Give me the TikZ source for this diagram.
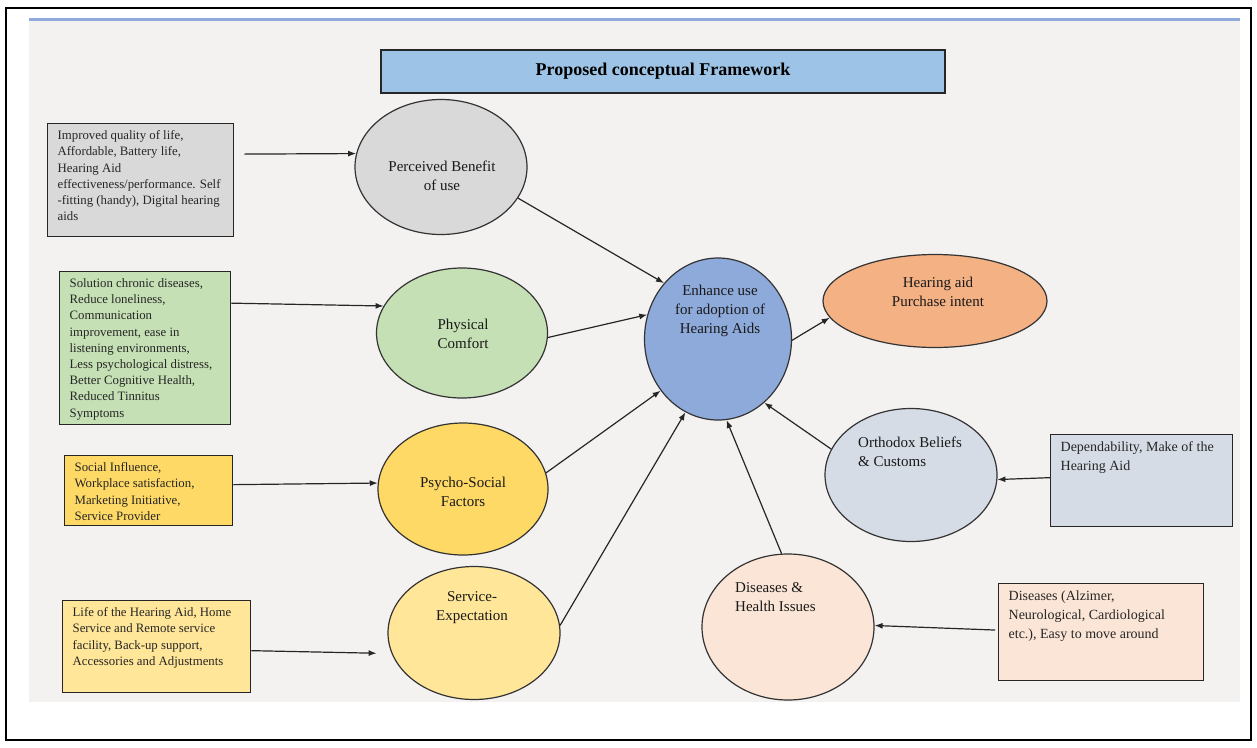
\documentclass[tikz,border=0pt]{standalone}
\usepackage{fontspec}
\setmainfont{Liberation Serif}
\usepackage{xcolor}
\usepackage{tikz}
\usetikzlibrary{shapes.geometric, arrows.meta}
\definecolor{panel}{RGB}{244, 241, 241}
\definecolor{titleblue}{RGB}{157, 195, 230}
\definecolor{hagray}{RGB}{217, 217, 217}
\definecolor{hagreen}{RGB}{197, 224, 180}
\definecolor{hagold}{RGB}{255, 217, 102}
\definecolor{hacream}{RGB}{255, 230, 153}
\definecolor{haslate}{RGB}{214, 220, 229}
\definecolor{hapeach}{RGB}{251, 229, 214}
\definecolor{hablue}{RGB}{142, 170, 219}
\definecolor{haorange}{RGB}{244, 177, 131}
\newcommand{\boxtext}[3]{\parbox[t][#2][t]{#1}{\raggedright #3}}

\begin{document}
\begin{tikzpicture}[
    x=1pt, y=-1pt,
    titlebox/.style={rectangle, draw=black!85, line width=1.5pt, fill=titleblue,
                     minimum width=564pt, minimum height=43pt,
                     font=\fontsize{18}{22}\selectfont\bfseries},
    srcbox/.style={rectangle, draw=black!85, line width=1.3pt, anchor=north west,
                   inner xsep=10pt, inner ysep=7pt, text=black!85},
    leftfont/.style={font=\fontsize{12.8}{16.2}\selectfont},
    rightfont/.style={font=\fontsize{14}{19}\selectfont},
    factor/.style={ellipse, draw=black!80, line width=1.2pt, inner sep=0pt},
    factortext/.style={align=center, inner sep=0pt, text=black!90,
                       font=\fontsize{15}{19}\selectfont},
    arrow/.style={-{Latex[length=8pt, width=6pt]}, line width=1.2pt, draw=black!85},
]
\useasboundingbox (0,0) rectangle (1257,747);
\draw[line width=2pt] (6,8) rectangle (1251,740);
\fill[panel] (29,18) rectangle (1240,702);
\draw[hablue, line width=3pt] (29,19) -- (1240,19);

\node[titlebox] (title) at (663,71.5) {Proposed conceptual Framework};

\node[srcbox, leftfont, fill=hagray] (benefitsrc) at (47,123)
    {\boxtext{166pt}{99pt}{Improved quality of life,\\ Affordable, Battery life,\\ Hearing Aid\\ effectiveness/performance. Self\\ -fitting (handy), Digital hearing\\ aids}};
\node[srcbox, leftfont, fill=hagreen] (comfortsrc) at (59,271)
    {\boxtext{151pt}{139pt}{Solution chronic diseases,\\ Reduce loneliness,\\ Communication\\ improvement, ease in\\ listening environments,\\ Less psychological distress,\\ Better Cognitive Health,\\ Reduced Tinnitus\\ Symptoms}};
\node[srcbox, leftfont, fill=hagold] (psychosrc) at (64,455)
    {\boxtext{148pt}{56pt}{Social Influence,\\ Workplace satisfaction,\\ Marketing Initiative,\\ Service Provider}};
\node[srcbox, leftfont, fill=hacream] (servicesrc) at (62,600)
    {\boxtext{168pt}{78pt}{Life of the Hearing Aid, Home\\ Service and Remote service\\ facility, Back-up support,\\ Accessories and Adjustments}};
\node[srcbox, rightfont, fill=haslate] (depsrc) at (1050,434)
    {\boxtext{162pt}{78pt}{Dependability, Make of the\\ Hearing Aid}};
\node[srcbox, rightfont, fill=hapeach] (diseasessrc) at (998,583)
    {\boxtext{185pt}{83pt}{Diseases (Alzimer,\\ Neurological, Cardiological\\ etc.), Easy to move around}};

\node[factor, fill=hagray,   minimum width=172pt, minimum height=135pt] (benefit)  at (441,167) {};
\node[factor, fill=hagreen,  minimum width=171pt, minimum height=130pt] (comfort)  at (462,333) {};
\node[factor, fill=hagold,   minimum width=170pt, minimum height=132pt] (psycho)   at (463,489) {};
\node[factor, fill=hacream,  minimum width=172pt, minimum height=133pt] (service)  at (474,633) {};
\node[factor, fill=hablue,   minimum width=147pt, minimum height=162pt] (enhance)  at (718,339) {};
\node[factor, fill=haorange, minimum width=224pt, minimum height=93pt]  (purchase) at (935,301) {};
\node[factor, fill=haslate,  minimum width=172pt, minimum height=133pt] (orthodox) at (911,475) {};
\node[factor, fill=hapeach,  minimum width=172pt, minimum height=146pt] (diseases) at (788,627) {};

\node[factortext] (benefit-t)  at (442,176) {Perceived Benefit\\of use};
\node[factortext] (comfort-t)  at (463,334) {Physical\\Comfort};
\node[factortext] (psycho-t)   at (463,492) {Psycho-Social\\Factors};
\node[factortext] (service-t)  at (472,608) {Service-\\Expectation};
\node[factortext] (enhance-t)  at (720,311) {Enhance use\\for adoption of\\Hearing Aids};
\node[factortext] (purchase-t) at (938,292) {Hearing aid\\Purchase intent};
\node[factortext, anchor=west, align=left] (orthodox-t) at (858,452) {Orthodox Beliefs\\\& Customs};
\node[factortext, anchor=west, align=left] (diseases-t) at (735,597) {Diseases \&\\Health Issues};

\draw[arrow, shorten <=10pt] ([yshift=26pt]benefitsrc.east) -- (benefit.171);
\draw[arrow] (benefit.-22) -- (enhance.134);
\draw[arrow] ([yshift=45pt]comfortsrc.east) -- (comfort.161);
\draw[arrow] (comfort.-3) -- (enhance.161);
\draw[arrow] ([yshift=6pt]psychosrc.east) -- (psycho.176);
\draw[arrow] (psycho.11) -- (enhance.222);
\draw[arrow, shorten >=15pt] ([yshift=-4pt]servicesrc.east) -- (service.194);
\draw[arrow] (service.5) -- (enhance.246);
\draw[arrow] (enhance.-1) -- (purchase.189);
\draw[arrow] (orthodox.162) -- (enhance.306);
\draw[arrow] (diseases.95) -- (enhance.276);
\draw[arrow] ([yshift=3pt]depsrc.west) -- (orthodox.-3);
\draw[arrow, shorten <=3pt] ([yshift=2pt]diseasessrc.west) -- (diseases.1);

\end{tikzpicture}
\end{document}
